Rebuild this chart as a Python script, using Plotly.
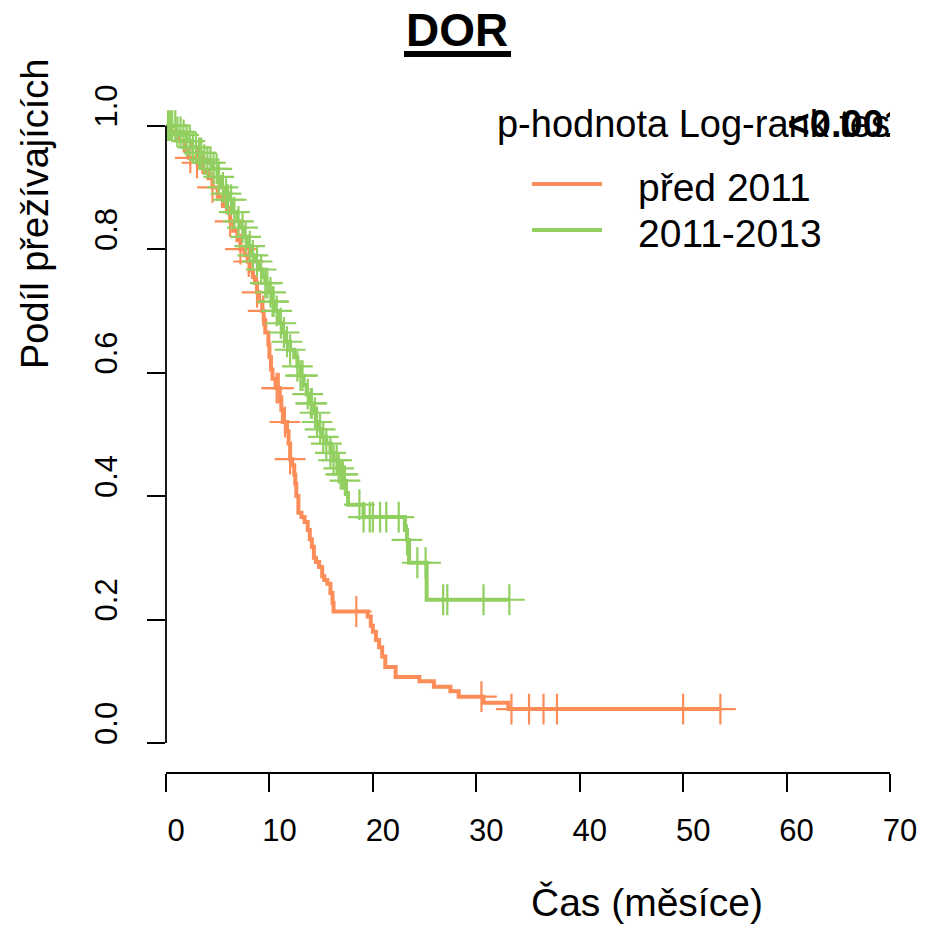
import numpy as np
import plotly.graph_objects as go

# ---------------- data ----------------
series_names = ["před 2011", "2011-2013"]
series_colors = ["#FC8D59", "#91CF60"]

# před 2011: event times (months) and survival after each step
times_pred = [0, 0.5, 1.2, 1.8, 2.2, 3.0, 3.6, 4.1, 4.5, 5.0, 5.5, 5.9, 6.2, 6.5, 6.9,
              7.2, 7.6, 7.9, 8.1, 8.4, 8.6, 8.8, 9.0, 9.3, 9.45, 9.6, 9.9, 10.0, 10.15,
              10.3, 10.6, 11.0, 11.15, 11.3, 11.7, 11.85, 12.0, 12.2, 12.4, 12.5, 12.6,
              12.8, 13.1, 13.4, 13.7, 13.9, 14.1, 14.3, 14.5, 14.8, 15.1, 15.3, 15.6,
              15.9, 16.1, 16.2, 19.5, 19.8, 20.0, 20.3, 20.6, 20.9, 21.2, 22.2, 24.5,
              25.9, 27.5, 28.3, 30.7, 33.1]
surv_pred = [1.0, 0.99, 0.975, 0.96, 0.948, 0.94, 0.925, 0.915, 0.90, 0.885, 0.87, 0.86,
             0.845, 0.83, 0.815, 0.80, 0.79, 0.78, 0.765, 0.755, 0.745, 0.73, 0.715, 0.70,
             0.685, 0.665, 0.645, 0.625, 0.605, 0.59, 0.575, 0.56, 0.54, 0.52, 0.505, 0.485,
             0.46, 0.45, 0.435, 0.42, 0.40, 0.373, 0.366, 0.358, 0.345, 0.33, 0.318, 0.30,
             0.293, 0.285, 0.27, 0.264, 0.258, 0.243, 0.227, 0.213, 0.205, 0.19, 0.18,
             0.167, 0.155, 0.14, 0.123, 0.107, 0.10, 0.091, 0.084, 0.075, 0.065, 0.055]
end_pred = 53.6
censor_pred = [2.35, 3.0, 4.5, 6.2, 7.2, 8.0, 8.8, 9.4, 10.7, 10.9, 11.5, 12.0, 18.4,
               30.5, 33.4, 35.1, 36.5, 37.8, 50.0, 53.6]

# 2011-2013
times_new = [0, 1.0, 1.6, 2.0, 2.5, 3.0, 3.5, 4.0, 4.5, 5.0, 5.3, 5.7, 6.0, 6.5, 6.9, 7.2,
             7.5, 7.9, 8.3, 8.6, 8.9, 9.3, 9.6, 10.0, 10.3, 10.6, 10.9, 11.3, 11.6, 12.0,
             12.4, 12.7, 13.0, 13.3, 13.6, 13.9, 14.2, 14.5, 14.8, 15.1, 15.5, 15.9, 16.2,
             16.6, 16.9, 17.2, 17.4, 17.6, 19.1, 23.1, 23.3, 23.5, 25.2]
surv_new = [1.0, 0.99, 0.985, 0.975, 0.965, 0.956, 0.945, 0.94, 0.93, 0.917, 0.90, 0.89,
            0.88, 0.86, 0.845, 0.835, 0.82, 0.805, 0.79, 0.78, 0.767, 0.755, 0.745, 0.73,
            0.715, 0.70, 0.68, 0.665, 0.65, 0.637, 0.625, 0.61, 0.595, 0.58, 0.565, 0.55,
            0.535, 0.52, 0.508, 0.496, 0.485, 0.47, 0.458, 0.445, 0.435, 0.425, 0.405,
            0.386, 0.366, 0.345, 0.329, 0.292, 0.232]
end_new = 33.2
censor_new = [0.2, 0.4, 0.6, 0.9, 1.1, 1.4, 1.7, 2.0, 2.3, 2.6, 2.9, 3.2, 3.4, 3.7, 4.0,
              4.3, 4.6, 4.9, 5.1, 5.5, 5.8, 6.0, 6.3, 6.6, 7.0, 7.4, 7.7, 8.1, 8.4, 8.8,
              9.2, 9.6, 9.8, 10.1, 10.3, 10.4, 10.7, 11.1, 11.4, 11.7, 12.0, 12.7, 13.0,
              13.2, 13.7, 14.0, 14.1, 14.4, 14.6, 14.9, 15.2, 15.5, 15.9, 16.2, 16.5, 16.7,
              16.9, 17.1, 17.3, 18.7, 19.1, 19.7, 20.0, 20.7, 21.3, 22.5, 23.3, 24.3, 25.1,
              26.8, 27.2, 30.7, 33.2]

x_ticks = [0, 10, 20, 30, 40, 50, 60, 70]
y_ticks = [0.0, 0.2, 0.4, 0.6, 0.8, 1.0]
y_tick_labels = ["0.0", "0.2", "0.4", "0.6", "0.8", "1.0"]

title_text = "DOR"
x_title = "Čas (měsíce)"
y_title = "Podíl přežívajících"
test_label = "p-hodnota Log-rank test"
p_value = "<0.001"

FONT = "Liberation Sans, Arial, Helvetica, sans-serif"

# ---------------- figure ----------------
fig = go.Figure()

series = [
    (times_pred, surv_pred, end_pred, censor_pred),
    (times_new, surv_new, end_new, censor_new),
]

def step_at(times, surv, t):
    idx = np.searchsorted(np.array(times), np.array(t), side="right") - 1
    return list(np.array(surv)[idx])

for (times, surv, tend, _), name, col in zip(series, series_names, series_colors):
    fig.add_trace(go.Scatter(
        x=list(times) + [tend], y=list(surv) + [surv[-1]],
        mode="lines", line=dict(color=col, width=4, shape="hv"),
        name=name, showlegend=False, hoverinfo="skip"))

for (times, surv, tend, cens), name, col in zip(series, series_names, series_colors):
    fig.add_trace(go.Scatter(
        x=cens, y=step_at(times, surv, cens),
        mode="markers",
        marker=dict(symbol="cross-thin", size=22, line=dict(color=col, width=2.2)),
        showlegend=False, name=name, hoverinfo="skip"))

# legend heading + p-value (clipped to the plot region as in the original)
fig.add_trace(go.Scatter(
    x=[32.0], y=[0.997], mode="text", text=[test_label], textposition="middle right",
    textfont=dict(family=FONT, size=38, color="black"), showlegend=False,
    cliponaxis=True, hoverinfo="skip"))
fig.add_trace(go.Scatter(
    x=[60.1], y=[0.997], mode="text", text=["<b>" + p_value + "</b>"],
    textposition="middle right",
    textfont=dict(family=FONT, size=38, color="black"), showlegend=False,
    cliponaxis=True, hoverinfo="skip"))

W, H = 930, 927
ML, MR, MT, MB = 166, 40, 101, 155
PW, PH = W - ML - MR, H - MT - MB

def px_x(px):
    return (px - ML) / PW

def px_y(py):
    return (H - MB - py) / PH

# legend drawn as line samples + labels, positioned like the original
legend_shapes = []
legend_annos = []
for name, col, ly, ty in zip(series_names, series_colors, [184, 230], [187, 234]):
    legend_shapes.append(dict(type="line", xref="paper", yref="paper",
                              x0=px_x(532), x1=px_x(602), y0=px_y(ly), y1=px_y(ly),
                              line=dict(color=col, width=4)))
    legend_annos.append(dict(text=name, xref="paper", yref="paper",
                             x=px_x(636), y=px_y(ty), xanchor="left", yanchor="middle",
                             showarrow=False,
                             font=dict(family=FONT, size=39, color="black")))

fig.update_layout(
    width=W, height=H,
    margin=dict(l=ML, r=MR, t=MT, b=MB, pad=0),
    paper_bgcolor="white", plot_bgcolor="white",
    font=dict(family=FONT, size=31, color="black"),
    showlegend=False,
    xaxis=dict(
        range=[0, 70], tickmode="array", tickvals=x_ticks,
        showgrid=False, zeroline=False,
        showline=True, linecolor="black", linewidth=1.8,
        ticks="outside", ticklen=18, tickwidth=1.8, tickcolor="black",
        tickfont=dict(family=FONT, size=31, color="black"),
        ticklabelshift=10, ticklabelstandoff=12,
    ),
    yaxis=dict(
        range=[-0.047, 1.04], tickmode="array", tickvals=y_ticks,
        ticktext=y_tick_labels, tickangle=-90,
        showgrid=False, zeroline=False, showline=False,
        ticks="outside", ticklen=18, tickwidth=1.8, tickcolor="black",
        tickfont=dict(family=FONT, size=31, color="black"),
        ticklabelshift=-15, ticklabelstandoff=18,
    ),
    shapes=[
        # y axis line spans the tick range only
        dict(type="line", xref="paper", yref="y", x0=0, x1=0, y0=0, y1=1,
             line=dict(color="black", width=1.8)),
        # title underline
        dict(type="rect", xref="paper", yref="paper",
             x0=px_x(404), x1=px_x(511), y0=px_y(57), y1=px_y(51),
             fillcolor="black", line=dict(width=0)),
    ] + legend_shapes,
    annotations=[
        dict(text="<b>" + title_text + "</b>", xref="paper", yref="paper",
             x=px_x(457), y=px_y(30), xanchor="center", yanchor="middle",
             showarrow=False, font=dict(family=FONT, size=46, color="black")),
        dict(text=y_title, xref="paper", yref="paper", textangle=-90,
             x=px_x(35), y=px_y(214), xanchor="center", yanchor="middle",
             showarrow=False, font=dict(family=FONT, size=38, color="black")),
        dict(text=x_title, xref="paper", yref="paper",
             x=px_x(647), y=px_y(903), xanchor="center", yanchor="middle",
             showarrow=False, font=dict(family=FONT, size=39, color="black")),
    ] + legend_annos,
)

fig.write_html("out.html")
